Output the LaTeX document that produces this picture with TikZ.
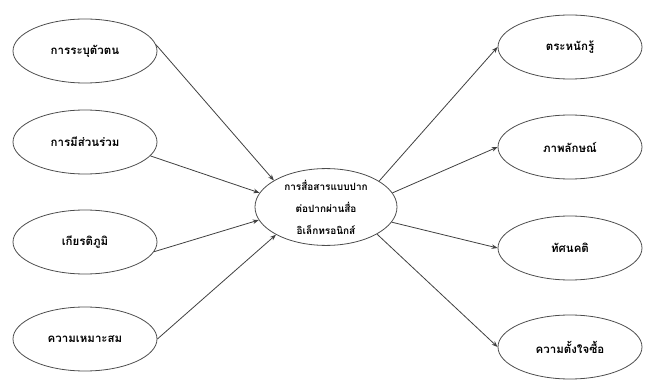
\documentclass[tikz,border=0pt]{standalone}
\usepackage{fontspec}
\newfontfamily\thaifont[Script=Thai]{Loma}
\usetikzlibrary{shapes.geometric,arrows.meta}
\tikzset{
  oval/.style={ellipse,draw=black!70,line width=0.8pt,minimum width=144pt,minimum height=64pt,inner sep=0pt,font=\thaifont\bfseries\fontsize{11.5}{14}\selectfont},
  mid/.style={ellipse,draw=black!70,line width=0.8pt,minimum width=142pt,minimum height=72pt,inner sep=0pt,align=center,font=\thaifont\bfseries\fontsize{10}{22}\selectfont},
  link/.style={draw=black!75,line width=0.8pt,-{Stealth[length=6pt,width=4.5pt]}}
}
\begin{document}
\begin{tikzpicture}[x=1pt,y=-1pt]
\useasboundingbox (0,0) rectangle (646,382);
\node[oval] (l1) at (85,51) {การระบุตัวตน};
\node[oval] (l2) at (85,142) {การมีส่วนร่วม};
\node[oval] (l3) at (85,242) {เกียรติภูมิ};
\node[oval] (l4) at (85,339) {ความเหมาะสม};
\node[oval] (r1) at (570,47) {ตระหนักรู้};
\node[oval] (r2) at (570,147) {ภาพลักษณ์};
\node[oval] (r3) at (570,248) {ทัศนคติ};
\node[oval] (r4) at (570,347) {ความตั้งใจซื้อ};
\node[mid] (c) at (326,207) {การสื่อสารแบบปาก\\ต่อปากผ่านสื่อ\\อิเล็กทรอนิกส์};
\draw[link] (l1.5) -- (c.153);
\draw[link] (l2.-12) -- (c.168);
\draw[link] (l3.-8) -- (c.191);
\draw[link] (l4.east) -- (c.209);
\draw[link] (c.26) -- (r1.west);
\draw[link] (c.12) -- (r2.west);
\draw[link] (c.-13) -- (r3.west);
\draw[link] (c.-28) -- (r4.west);
\end{tikzpicture}
\end{document}
